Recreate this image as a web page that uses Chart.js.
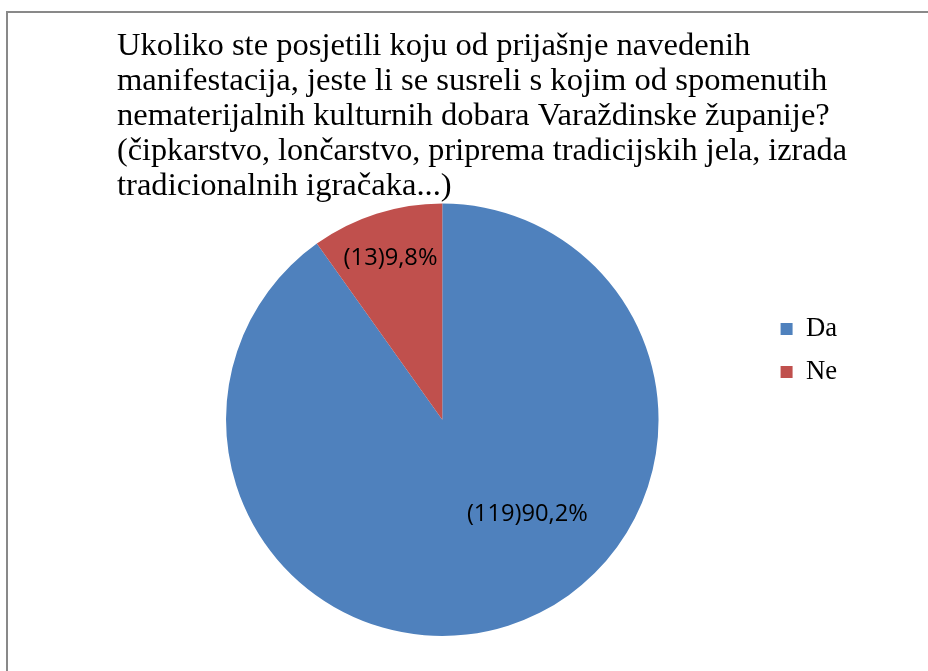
<!DOCTYPE html>
<html>
<head>
<meta charset="utf-8">
<title>Nematerijalna kulturna dobra</title>
<script src="https://cdn.jsdelivr.net/npm/chart.js@4/dist/chart.umd.min.js"></script>
<style>
  html, body { margin: 0; padding: 0; background: #fff; overflow: hidden; }
  #frame {
    position: absolute; left: 6px; top: 11px; right: -10px; bottom: -10px;
    border-left: 2px solid #898989; border-top: 2px solid #898989;
  }
  #chart { position: absolute; left: 0; top: 0; }
</style>
</head>
<body>
<div id="frame"></div>
<canvas id="chart" width="928" height="671"></canvas>
<script>
const titleLines = [
  "Ukoliko ste posjetili koju od prijašnje navedenih",
  "manifestacija, jeste li se susreli s kojim od spomenutih",
  "nematerijalnih kulturnih dobara Varaždinske županije?",
  "(čipkarstvo, lončarstvo, priprema tradicijskih jela, izrada",
  "tradicionalnih igračaka...)",
];
const categories = ["Da", "Ne"];
const counts = [119, 13];
const sliceColors = ["#4F81BD", "#C0504D"];

// where the value labels sit, relative to each slice
const labelRadius = [0.587, 0.786];
const labelAngleShift = [-24.35, 0];

const sliceLabels = {
  id: "sliceLabels",
  afterDatasetsDraw(chart) {
    const meta = chart.getDatasetMeta(0);
    const data = chart.data.datasets[0].data;
    const total = data.reduce((a, b) => a + b, 0);
    const ctx = chart.ctx;
    ctx.save();
    ctx.font = '23.7px "Open Sans"';
    ctx.fillStyle = "#000";
    ctx.textAlign = "center";
    ctx.textBaseline = "middle";
    meta.data.forEach((arc, i) => {
      const { x, y, startAngle, endAngle, outerRadius } = arc.getProps(
        ["x", "y", "startAngle", "endAngle", "outerRadius"],
        true
      );
      const angle = (startAngle + endAngle) / 2 + (labelAngleShift[i] * Math.PI) / 180;
      const r = outerRadius * labelRadius[i];
      const pct = ((data[i] / total) * 100).toFixed(1).replace(".", ",");
      ctx.fillText(`(${data[i]})${pct}%`, x + Math.cos(angle) * r, y + Math.sin(angle) * r);
    });
    ctx.restore();
  },
};

const baseLabels = Chart.overrides.pie.plugins.legend.labels.generateLabels;

new Chart(document.getElementById("chart"), {
  type: "pie",
  data: {
    labels: categories,
    datasets: [
      {
        data: counts,
        backgroundColor: sliceColors,
        borderWidth: 0,
      },
    ],
  },
  options: {
    responsive: false,
    animation: false,
    devicePixelRatio: 1,
    layout: { padding: { left: 117, right: 81, top: 0, bottom: 35 } },
    plugins: {
      title: {
        display: true,
        text: titleLines,
        align: "start",
        color: "#000",
        font: { family: "Liberation Serif", size: 32.6, weight: "normal", lineHeight: 1.0736 },
        padding: { top: 28.5, bottom: 0 },
      },
      legend: {
        position: "right",
        align: "start",
        fullSize: false,
        title: {
          display: true,
          text: " ",
          font: { family: "Liberation Serif", size: 20, lineHeight: 1.2 },
          padding: { top: 75.2, bottom: 0 },
        },
        labels: {
          color: "#000",
          boxWidth: 12,
          boxHeight: 12,
          padding: 13,
          font: { family: "Liberation Serif", size: 26.67, lineHeight: 1.125 },
          // single-line arrays so the row height follows lineHeight
          generateLabels: (chart) =>
            baseLabels(chart).map((item) => ({ ...item, text: [item.text], lineWidth: 0 })),
        },
      },
      tooltip: { enabled: false },
    },
  },
  plugins: [sliceLabels],
});
</script>
</body>
</html>
